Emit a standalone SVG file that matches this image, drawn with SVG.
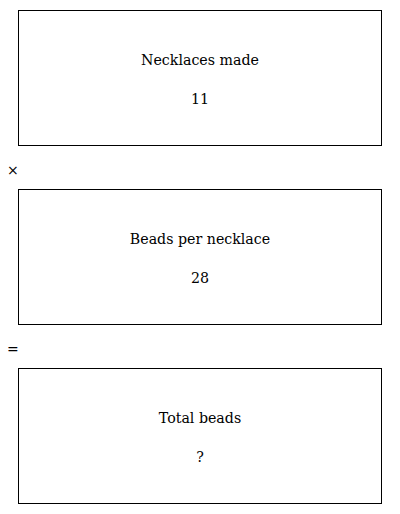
<svg xmlns="http://www.w3.org/2000/svg" width="400" height="514" viewBox="0 0 400 514">
<style>
.box{fill:#fff;stroke:#000;stroke-width:1}
.t{font-family:"DejaVu Serif","Liberation Serif",serif;font-size:14.2px;fill:#000;text-anchor:middle}
.op{font-family:"DejaVu Sans","Liberation Sans",sans-serif;font-size:14px;fill:#000}
</style>
<rect width="400" height="514" fill="#fff"/>
<g id="node-necklaces">
<rect class="box" x="18.5" y="10.5" width="363" height="135"/>
<text class="t" x="200" y="65">Necklaces made</text>
<text class="t" x="200" y="104">11</text>
</g>
<g id="op-times"><text class="op" x="7" y="175">×</text></g>
<g id="node-beads">
<rect class="box" x="18.5" y="189.5" width="363" height="135"/>
<text class="t" x="200" y="244">Beads per necklace</text>
<text class="t" x="200" y="283">28</text>
</g>
<g id="op-equals"><text class="op" x="7" y="354">=</text></g>
<g id="node-total">
<rect class="box" x="18.5" y="368.5" width="363" height="135"/>
<text class="t" x="200" y="423">Total beads</text>
<text class="t" x="200" y="462">?</text>
</g>
<g id="connectors"></g>
</svg>
